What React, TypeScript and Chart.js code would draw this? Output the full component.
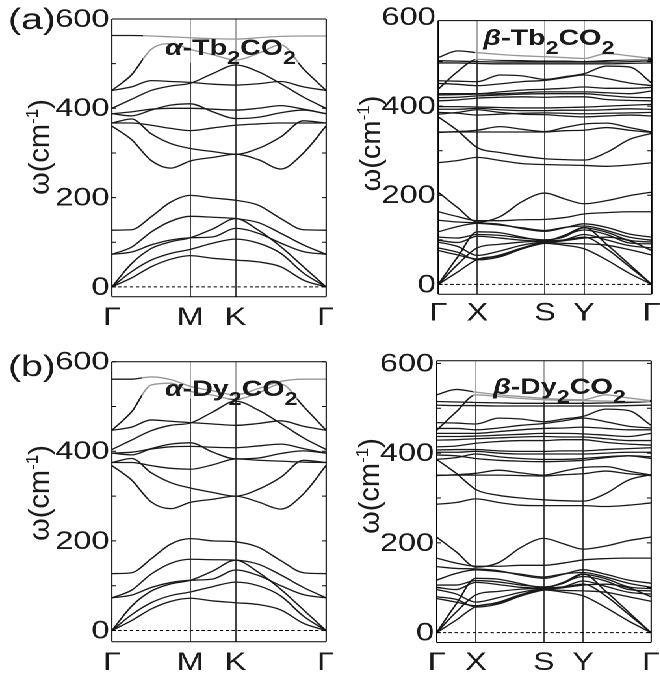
import React, { useEffect, useRef } from 'react';
import { Chart, registerables } from 'chart.js';

Chart.register(...registerables);

const SANS = '"Liberation Sans", Arial, Helvetica, sans-serif';
// The figure is laid out in narrow units and widened horizontally as a whole.
const STRETCH = 1.3;
const INK = '#1a1a1a';

// Sampling positions along the k-paths
const hexK = [0, 0.144, 0.289, 0.433, 0.577, 0.744, 0.911, 1.078, 1.244, 1.411, 1.577];
const hexTicks = [0, 0.577, 0.911, 1.577];
const hexLabels = ['Γ', 'M', 'K', 'Γ'];

const orthoK = [0, 0.5, 1, 1.58, 2.15, 2.732, 3.232, 3.732, 4.31, 4.89, 5.464];
const orthoTicks = [0, 1, 2.732, 3.732, 5.464];
const orthoLabels = ['Γ', 'X', 'S', 'Y', 'Γ'];

const freqTicks = [0, 100, 200, 300, 400, 500, 600];

// alpha-Tb2CO2 phonon branches (cm^-1)
const alphaTbLow = [
  [0, 20, 45, 62, 70, 64, 60, 56, 45, 15, 0],
  [0, 34, 60, 75, 84, 98, 107, 98, 75, 31, 0],
  [0, 52, 86, 101, 110, 130, 153, 127, 90, 45, 0],
  [73, 78, 94, 105, 110, 112, 131, 120, 98, 79, 73],
  [73, 89, 123, 147, 158, 156, 153, 144, 120, 94, 73],
  [127, 128, 157, 190, 205, 199, 194, 183, 153, 128, 127],
];
const alphaTbHigh = [
  [360, 330, 283, 266, 282, 290, 297, 285, 264, 300, 360],
  [367, 376, 343, 321, 310, 303, 297, 310, 336, 372, 367],
  [367, 367, 362, 355, 350, 356, 362, 365, 367, 367, 367],
  [388, 392, 398, 400, 400, 398, 396, 400, 406, 398, 388],
  [388, 383, 396, 407, 410, 392, 377, 380, 390, 396, 388],
  [400, 420, 440, 450, 456, 478, 497, 482, 455, 425, 400],
  [440, 448, 462, 460, 458, 454, 452, 455, 460, 448, 440],
  [440, 475, 532, 545, 532, 520, 508, 523, 542, 488, 440],
  [563, 563, 562, 560, 558, 556, 555, 558, 561, 562, 562],
];

// alpha-Dy2CO2
const alphaDyLow = [
  [0, 22, 48, 65, 72, 66, 62, 58, 46, 16, 0],
  [0, 35, 62, 78, 86, 98, 108, 100, 77, 32, 0],
  [0, 54, 88, 104, 112, 133, 157, 130, 92, 46, 0],
  [73, 79, 96, 107, 112, 115, 135, 123, 100, 80, 73],
  [73, 90, 126, 150, 159, 158, 157, 148, 124, 96, 73],
  [127, 129, 160, 193, 205, 200, 198, 186, 156, 129, 127],
];
const alphaDyHigh = [
  [368, 336, 287, 272, 286, 293, 300, 287, 271, 305, 368],
  [375, 384, 352, 330, 318, 308, 300, 315, 342, 380, 375],
  [375, 375, 368, 362, 360, 370, 383, 380, 378, 376, 375],
  [396, 398, 405, 410, 411, 409, 408, 412, 416, 406, 396],
  [396, 392, 406, 416, 419, 398, 383, 385, 395, 401, 396],
  [404, 425, 446, 458, 463, 488, 512, 492, 462, 430, 404],
  [447, 454, 470, 467, 464, 461, 458, 462, 468, 456, 447],
  [447, 488, 548, 552, 534, 525, 516, 530, 550, 500, 447],
  [561, 561, 566, 560, 545, 535, 526, 540, 556, 561, 561],
];

// beta-Tb2CO2
const betaTbLow = [
  [207, 172, 140, 152, 186, 205, 192, 181, 188, 199, 207],
  [163, 152, 143, 143, 145, 146, 150, 158, 161, 163, 163],
  [144, 140, 138, 135, 125, 119, 127, 136, 128, 113, 106],
  [118, 130, 137, 133, 127, 121, 128, 131, 121, 106, 99],
  [106, 104, 112, 110, 104, 100, 107, 127, 117, 99, 95],
  [99, 94, 108, 104, 99, 97, 110, 122, 112, 93, 91],
  [95, 85, 65, 75, 88, 96, 100, 112, 100, 87, 82],
  [82, 72, 55, 62, 80, 93, 98, 104, 106, 98, 76],
  [76, 66, 57, 66, 82, 94, 92, 91, 88, 78, 66],
  [0, 62, 118, 116, 106, 98, 110, 128, 90, 45, 0],
  [0, 45, 82, 90, 95, 97, 100, 106, 80, 40, 0],
  [0, 28, 56, 64, 80, 92, 88, 80, 55, 25, 0],
];
const betaTbHigh = [
  [273, 278, 285, 278, 271, 269, 268, 267, 265, 268, 273],
  [376, 345, 307, 296, 288, 282, 280, 279, 296, 325, 339],
  [342, 342, 342, 342, 342, 342, 345, 346, 352, 346, 341],
  [341, 343, 346, 354, 348, 343, 352, 360, 362, 352, 342],
  [382, 386, 392, 386, 382, 381, 378, 376, 378, 380, 378],
  [386, 384, 380, 382, 384, 385, 384, 383, 384, 385, 386],
  [393, 393, 395, 392, 390, 390, 391, 391, 392, 394, 393],
  [399, 399, 398, 397, 396, 396, 397, 398, 400, 402, 404],
  [412, 414, 418, 420, 421, 420, 421, 421, 415, 413, 412],
  [419, 420, 423, 425, 427, 428, 428, 428, 424, 420, 419],
  [425, 426, 427, 428, 430, 432, 432, 432, 430, 428, 434],
  [428, 428, 428, 432, 436, 438, 440, 443, 440, 440, 442],
  [451, 449, 446, 450, 455, 458, 464, 470, 462, 452, 446],
  [457, 456, 455, 470, 468, 460, 466, 473, 490, 488, 452],
  [438, 478, 505, 503, 502, 501, 501, 500, 502, 504, 505],
  [497, 497, 496, 495, 495, 495, 495, 495, 495, 496, 497],
  [502, 501, 500, 499, 499, 499, 499, 499, 499, 500, 502],
  [509, 524, 520, 516, 513, 511, 509, 507, 518, 513, 507],
];

// beta-Dy2CO2
const betaDyLow = [
  [213, 180, 146, 156, 190, 210, 198, 186, 193, 205, 213],
  [166, 155, 148, 148, 150, 150, 155, 162, 165, 166, 166],
  [147, 143, 142, 138, 128, 121, 130, 140, 130, 117, 110],
  [117, 132, 140, 136, 130, 124, 131, 134, 124, 110, 101],
  [106, 106, 116, 113, 106, 102, 110, 130, 120, 102, 98],
  [101, 96, 112, 107, 101, 99, 112, 125, 115, 96, 93],
  [96, 86, 68, 78, 90, 98, 102, 115, 103, 90, 86],
  [80, 74, 57, 64, 82, 95, 100, 106, 108, 100, 80],
  [76, 68, 60, 68, 85, 96, 94, 93, 90, 80, 70],
  [0, 64, 121, 119, 109, 100, 112, 131, 92, 46, 0],
  [0, 46, 84, 92, 97, 99, 102, 108, 82, 41, 0],
  [0, 28, 58, 66, 82, 95, 90, 82, 56, 26, 0],
];
const betaDyHigh = [
  [286, 290, 298, 290, 284, 283, 283, 283, 281, 284, 289],
  [386, 355, 319, 306, 300, 296, 294, 293, 310, 340, 352],
  [351, 351, 351, 351, 350, 349, 352, 354, 360, 354, 350],
  [350, 352, 355, 362, 356, 351, 360, 368, 370, 360, 351],
  [386, 390, 398, 392, 388, 386, 386, 388, 392, 394, 392],
  [396, 394, 388, 384, 382, 381, 382, 384, 390, 394, 388],
  [402, 402, 404, 400, 398, 398, 398, 398, 400, 402, 402],
  [407, 408, 408, 405, 404, 404, 405, 405, 408, 410, 412],
  [414, 416, 422, 426, 428, 428, 430, 430, 424, 420, 418],
  [429, 430, 432, 434, 436, 437, 436, 436, 432, 428, 428],
  [437, 437, 438, 440, 442, 444, 444, 443, 440, 437, 444],
  [444, 444, 444, 448, 452, 455, 456, 458, 455, 452, 452],
  [455, 455, 452, 456, 462, 466, 472, 478, 470, 460, 456],
  [468, 467, 465, 478, 476, 470, 476, 482, 498, 495, 462],
  [451, 492, 530, 526, 522, 519, 518, 517, 516, 515, 516],
  [507, 506, 506, 505, 505, 505, 505, 505, 505, 506, 507],
  [515, 514, 513, 512, 511, 511, 511, 511, 512, 513, 515],
  [530, 542, 536, 530, 526, 522, 520, 519, 530, 523, 517],
];

type Run = { t: string; greek?: boolean; sub?: boolean };
const formulaRuns = (phase: string, metal: string): Run[] => [
  { t: phase, greek: true },
  { t: '-' + metal },
  { t: '2', sub: true },
  { t: 'CO' },
  { t: '2', sub: true },
];

interface PanelSpec {
  key: string;
  k: number[];
  ticks: number[];
  labels: string[];
  bands: number[][];
  yMin: number;
  yMax: number;
  canvas: { left: number; top: number; w: number; h: number };
  plot: { l: number; t: number; r: number; b: number };
  xLabelPad: number;
  runs: Run[];
  title: { x: number; y: number };
  box: { x0: number; y0: number; x1: number; y1: number };
  yLabel: { x: number; y: number };
  letter?: { text: string; x: number; y: number };
}

const panels: PanelSpec[] = [
  {
    key: 'alphaTb', k: hexK, ticks: hexTicks, labels: hexLabels,
    bands: [...alphaTbLow, ...alphaTbHigh], yMin: -22, yMax: 600,
    canvas: { left: 0, top: 0, w: 256, h: 338 },
    plot: { l: 86.15, t: 19, r: 250.8, b: 296.7 }, xLabelPad: 6.3,
    runs: formulaRuns('α', 'Tb'), title: { x: 126.9, y: 55 },
    box: { x0: 110, y0: 19, x1: 250.8, y1: 63 },
    yLabel: { x: 30, y: 147 }, letter: { text: '(a)', x: 6.2, y: 29 },
  },
  {
    key: 'betaTb', k: orthoK, ticks: orthoTicks, labels: orthoLabels,
    bands: [...betaTbLow, ...betaTbHigh], yMin: -22, yMax: 592,
    canvas: { left: 256, top: 0, w: 252, h: 338 },
    plot: { l: 81.15, t: 20.6, r: 245.3, b: 294.2 }, xLabelPad: 4.3,
    runs: formulaRuns('β', 'Tb'), title: { x: 115.8, y: 45 },
    box: { x0: 109.4, y0: 20.6, x1: 242.5, y1: 60 },
    yLabel: { x: 28.6, y: 143.5 },
  },
  {
    key: 'alphaDy', k: hexK, ticks: hexTicks, labels: hexLabels,
    bands: [...alphaDyLow, ...alphaDyHigh], yMin: -25, yMax: 600,
    canvas: { left: 0, top: 338, w: 256, h: 339 },
    plot: { l: 86.15, t: 23.7, r: 250.8, b: 303.7 }, xLabelPad: 6.3,
    runs: formulaRuns('α', 'Dy'), title: { x: 126.9, y: 58 },
    box: { x0: 109, y0: 23.7, x1: 250.8, y1: 61 },
    yLabel: { x: 30, y: 155 }, letter: { text: '(b)', x: 6.2, y: 38 },
  },
  {
    key: 'betaDy', k: orthoK, ticks: orthoTicks, labels: orthoLabels,
    bands: [...betaDyLow, ...betaDyHigh], yMin: -22, yMax: 606,
    canvas: { left: 256, top: 338, w: 252, h: 339 },
    plot: { l: 79.9, t: 22.7, r: 244.8, b: 304.5 }, xLabelPad: 5.7,
    runs: formulaRuns('β', 'Dy'), title: { x: 123.2, y: 56 },
    box: { x0: 107.8, y0: 22.7, x1: 244, y1: 64 },
    yLabel: { x: 27.8, y: 148 },
  },
];

function drawRuns(ctx: CanvasRenderingContext2D, runs: Run[], x0: number, y0: number) {
  let x = x0;
  for (const r of runs) {
    ctx.font = `${r.greek ? 'italic ' : ''}bold ${r.sub ? 18 : 22}px ${SANS}`;
    ctx.fillText(r.t, x, y0 + (r.sub ? 9 : 0));
    x += ctx.measureText(r.t).width;
  }
}

// Rotated "ω(cm⁻¹)" axis caption; the horizontal widening is undone for it.
function drawFreqLabel(ctx: CanvasRenderingContext2D, cx: number, cy: number) {
  const parts = [
    { t: 'ω(cm', size: 29, rise: 0 },
    { t: '-1', size: 17, rise: 11 },
    { t: ')', size: 29, rise: 0 },
  ];
  ctx.save();
  ctx.translate(cx, cy);
  ctx.scale(1 / STRETCH, 1);
  ctx.rotate(-Math.PI / 2);
  ctx.textAlign = 'left';
  ctx.textBaseline = 'alphabetic';
  let total = 0;
  for (const p of parts) {
    ctx.font = `${p.size}px ${SANS}`;
    total += ctx.measureText(p.t).width;
  }
  let x = -total / 2;
  for (const p of parts) {
    ctx.font = `${p.size}px ${SANS}`;
    ctx.fillText(p.t, x, 10 - p.rise);
    x += ctx.measureText(p.t).width;
  }
  ctx.restore();
}

function decorations(spec: PanelSpec) {
  return {
    id: 'panelDecor',
    afterDatasetsDraw(chart: any) {
      const { ctx, chartArea: a } = chart;
      const ys = chart.scales.y;
      ctx.save();
      const b = spec.box;
      ctx.fillStyle = 'rgba(255,255,255,0.55)';
      ctx.fillRect(b.x0, b.y0, b.x1 - b.x0, b.y1 - b.y0);
      ctx.fillStyle = INK;
      ctx.textAlign = 'left';
      ctx.textBaseline = 'alphabetic';
      drawRuns(ctx, spec.runs, spec.title.x, spec.title.y);
      ctx.strokeStyle = '#000';
      // frame: horizontal edges at full weight, vertical edges thinner to
      // compensate for the horizontal widening
      ctx.lineWidth = 1;
      ctx.beginPath();
      ctx.moveTo(a.left, a.top);
      ctx.lineTo(a.right, a.top);
      ctx.moveTo(a.left, a.bottom);
      ctx.lineTo(a.right, a.bottom);
      ctx.stroke();
      ctx.lineWidth = 0.8;
      ctx.beginPath();
      ctx.moveTo(a.left, a.top);
      ctx.lineTo(a.left, a.bottom);
      ctx.moveTo(a.right, a.top);
      ctx.lineTo(a.right, a.bottom);
      ctx.stroke();
      ctx.lineWidth = 1;
      ctx.beginPath();
      for (const v of freqTicks) {
        if (v < spec.yMin || v > spec.yMax) continue;
        const py = ys.getPixelForValue(v);
        ctx.moveTo(a.left, py);
        ctx.lineTo(a.left + 3.2, py);
        ctx.moveTo(a.right, py);
        ctx.lineTo(a.right - 3.2, py);
      }
      ctx.stroke();
      ctx.restore();
    },
    afterDraw(chart: any) {
      const ctx = chart.ctx as CanvasRenderingContext2D;
      ctx.save();
      ctx.fillStyle = INK;
      drawFreqLabel(ctx, spec.yLabel.x, spec.yLabel.y);
      if (spec.letter) {
        ctx.font = `30px ${SANS}`;
        ctx.textAlign = 'left';
        ctx.textBaseline = 'alphabetic';
        ctx.fillText(spec.letter.text, spec.letter.x, spec.letter.y);
      }
      ctx.restore();
    },
  };
}

function Panel({ spec }: { spec: PanelSpec }) {
  const ref = useRef<HTMLCanvasElement>(null);
  useEffect(() => {
    const canvas = ref.current;
    if (!canvas) return;
    const { canvas: c, plot } = spec;
    const kEnd = spec.k[spec.k.length - 1];
    const branches = spec.bands.map((band) => ({
      data: band.map((v, i) => ({ x: spec.k[i], y: v })),
      borderColor: INK,
      borderWidth: 1.3,
      pointRadius: 0,
      cubicInterpolationMode: 'monotone',
      fill: false,
    }));
    const zeroLine = {
      data: [{ x: 0, y: 0 }, { x: kEnd, y: 0 }],
      borderColor: '#000',
      borderWidth: 1,
      borderDash: [2.6, 2],
      pointRadius: 0,
      fill: false,
    };
    const tickFont = { family: SANS, size: 25 };
    const chart = new Chart(canvas, {
      type: 'line',
      data: { datasets: [zeroLine, ...branches] as any },
      options: {
        animation: false,
        responsive: false,
        devicePixelRatio: 2,
        events: [],
        layout: { padding: { left: 0, top: plot.t, right: c.w - plot.r, bottom: 0 } },
        plugins: { legend: { display: false }, tooltip: { enabled: false }, title: { display: false } },
        scales: {
          x: {
            type: 'linear',
            min: 0,
            max: kEnd,
            afterBuildTicks: (s: any) => {
              s.ticks = spec.ticks.map((v) => ({ value: v }));
            },
            afterFit: (s: any) => {
              s.height = c.h - plot.b;
              s.paddingLeft = 0;
              s.paddingRight = 0;
            },
            ticks: {
              callback: (_v: any, i: number) => spec.labels[i],
              font: tickFont,
              color: INK,
              padding: spec.xLabelPad,
              autoSkip: false,
              maxRotation: 0,
              minRotation: 0,
            },
            grid: { color: '#111', lineWidth: 0.78, drawTicks: false },
            border: { display: false },
          },
          y: {
            type: 'linear',
            min: spec.yMin,
            max: spec.yMax,
            afterBuildTicks: (s: any) => {
              s.ticks = freqTicks.map((v) => ({ value: v }));
            },
            afterFit: (s: any) => {
              s.width = plot.l;
              s.paddingTop = 0;
              s.paddingBottom = 0;
            },
            ticks: {
              callback: (v: any) => (Number(v) % 200 === 0 ? String(v) : ''),
              font: tickFont,
              color: INK,
              padding: 2,
              labelOffset: 1,
            },
            grid: { display: false, drawTicks: false },
            border: { display: false },
          },
        },
      } as any,
      plugins: [decorations(spec)],
    });
    return () => chart.destroy();
  }, [spec]);
  const c = spec.canvas;
  return (
    <canvas
      ref={ref}
      width={c.w}
      height={c.h}
      style={{ position: 'absolute', left: c.left, top: c.top, width: c.w, height: c.h }}
    />
  );
}

export default function App() {
  return (
    <div style={{ position: 'absolute', left: 0, top: 0, width: 660, height: 677, background: '#fff', overflow: 'hidden' }}>
      <div
        style={{
          position: 'absolute',
          left: 0,
          top: 0,
          width: 660 / STRETCH,
          height: 677,
          transform: `scaleX(${STRETCH})`,
          transformOrigin: '0 0',
        }}
      >
        {panels.map((p) => (
          <Panel key={p.key} spec={p} />
        ))}
      </div>
    </div>
  );
}
